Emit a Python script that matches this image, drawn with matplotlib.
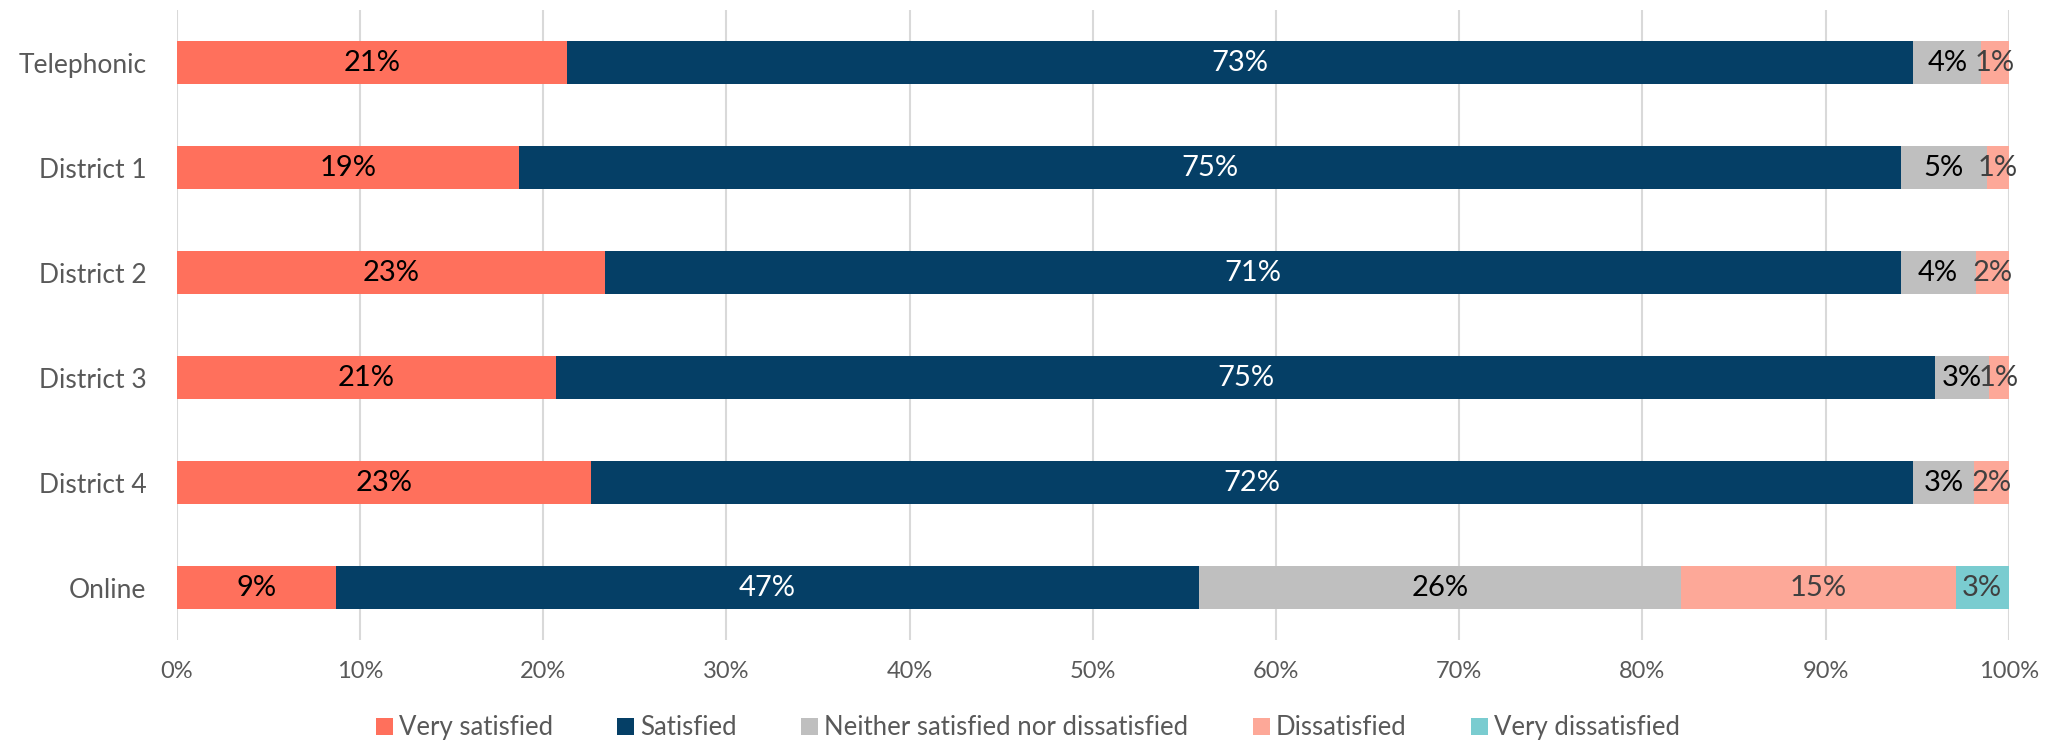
import matplotlib
matplotlib.use("Agg")
import matplotlib.pyplot as plt
import numpy as np
from matplotlib.ticker import FuncFormatter

categories = ["Telephonic", "District 1", "District 2", "District 3", "District 4", "Online"]
series_names = ["Very satisfied", "Satisfied", "Neither satisfied nor dissatisfied",
                "Dissatisfied", "Very dissatisfied"]
very_satisfied = [21.3, 18.7, 23.4, 20.7, 22.6, 8.7]
satisfied = [73.5, 75.4, 70.7, 75.3, 72.2, 47.1]
neither = [3.7, 4.7, 4.1, 2.9, 3.3, 26.3]
dissatisfied = [1.5, 1.2, 1.8, 1.1, 1.9, 15.0]
very_dissatisfied = [0.0, 0.0, 0.0, 0.0, 0.0, 2.9]
label_texts = [
    ["21%", "19%", "23%", "21%", "23%", "9%"],
    ["73%", "75%", "71%", "75%", "72%", "47%"],
    ["4%", "5%", "4%", "3%", "3%", "26%"],
    ["1%", "1%", "2%", "1%", "2%", "15%"],
    ["", "", "", "", "", "3%"],
]
colors = ["#FF705C", "#053F66", "#BFBFBF", "#FDA898", "#7ACCD0"]
label_colors = ["#000000", "#FFFFFF", "#000000", "#404040", "#404040"]

plt.rcParams['font.family'] = ['Lato', 'DejaVu Sans']

fig = plt.figure(figsize=(20.56, 7.46), dpi=100)
ax = fig.add_axes([0.086, 0.142, 0.891, 0.844])

data = [very_satisfied, satisfied, neither, dissatisfied, very_dissatisfied]
y = np.arange(len(categories))
left = np.zeros(len(categories))
for vals, name, col, lc, labs in zip(data, series_names, colors, label_colors, label_texts):
    vals = np.array(vals)
    ax.barh(y, vals, left=left, height=0.41, color=col, label=name, zorder=3)
    for i, (v, l) in enumerate(zip(vals, labs)):
        if l:
            ax.text(left[i] + v / 2, y[i], l, ha="center", va="center",
                    fontsize=21, color=lc, zorder=4)
    left = left + vals

ax.set_xlim(0, 100)
ax.set_ylim(len(categories) - 0.5, -0.5)
ax.set_yticks(y)
ax.set_yticklabels(categories)
ax.set_xticks(np.arange(0, 101, 10))
ax.xaxis.set_major_formatter(FuncFormatter(lambda v, p: f"{int(v)}%"))
ax.grid(axis="x", color="#D9D9D9", linewidth=1.5, zorder=0)
for s in ax.spines.values():
    s.set_visible(False)
ax.tick_params(axis="both", length=0, colors="#595959")
ax.tick_params(axis="x", pad=15, labelsize=17)
ax.tick_params(axis="y", pad=22, labelsize=19)

handles, labels = ax.get_legend_handles_labels()
fig.legend(handles, labels, loc="upper center", bbox_to_anchor=(0.5, 0.041), ncol=5,
           frameon=False, fontsize=18.5, labelcolor="#595959", handlelength=0.65,
           handleheight=0.65, handletextpad=0.25, columnspacing=2.5,
           borderaxespad=0, borderpad=0)

fig.savefig("out.png", dpi=100)
